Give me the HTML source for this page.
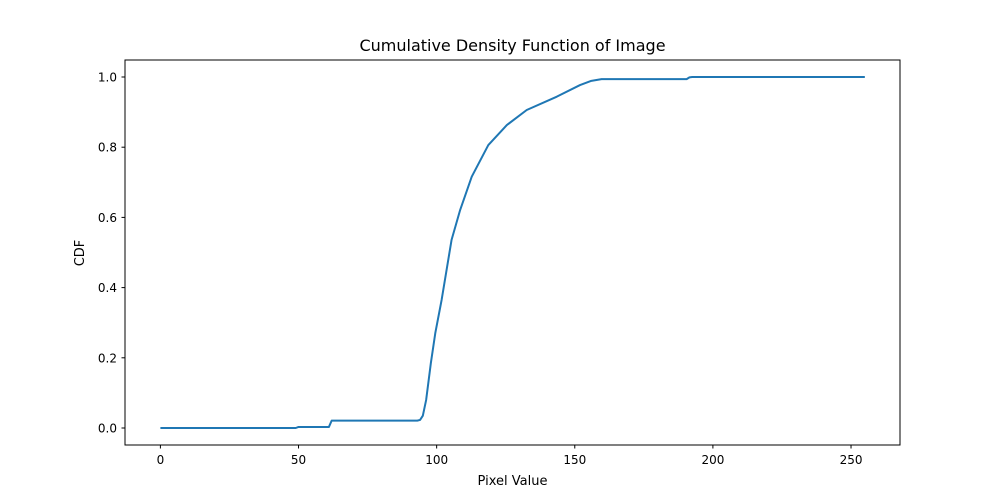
<!DOCTYPE html>
<html><head><meta charset="utf-8"><style>
body{margin:0;background:#fff;}
svg{display:block;font-family:"DejaVu Sans","Liberation Sans",sans-serif;}
</style></head><body>
<svg id="chart" width="1000" height="500">
<text x="512.5" y="51" text-anchor="middle" font-size="16">Cumulative Density Function of Image</text>
<g id="axes"></g>
<rect x="125" y="60" width="775" height="385" fill="none" stroke="#000" stroke-width="1"/>
<text x="512.5" y="485" text-anchor="middle" font-size="13">Pixel Value</text>
<text transform="translate(84,253) rotate(-90)" text-anchor="middle" font-size="13">CDF</text>
</svg>
<script>
const xVals=[0,49,50,61,62,93,94,95,96.2,97.9,99.5,101.8,105.4,108.5,112.7,118.7,125.4,132.6,143.5,151.9,156,159.7,190.5,191.5,192.5,255];
const yVals=[0,0,0.003,0.003,0.021,0.021,0.023,0.035,0.08,0.185,0.27,0.365,0.536,0.621,0.716,0.806,0.863,0.906,0.944,0.977,0.989,0.994,0.994,0.999,1.0,1.0];
const xTicks=[0,50,100,150,200,250];
const yTicks=[0,0.2,0.4,0.6,0.8,1.0];
const NS="http://www.w3.org/2000/svg";
const X=v=>160.4+v*2.7625;
const Y=v=>428-v*351;
const g=document.getElementById('axes');
function mk(t,a){const e=document.createElementNS(NS,t);for(const k in a)e.setAttribute(k,a[k]);return e;}
xTicks.forEach(t=>{
 const l=mk('line',{x1:X(t),x2:X(t),y1:445,y2:448.5,stroke:'#000'});
 
 
 g.appendChild(l);
 const tx=mk('text',{x:X(t),y:464,'text-anchor':'middle','font-size':12});
 
 
 tx.textContent=t;g.appendChild(tx);
});
yTicks.forEach(t=>{
 const l=mk('line',{x1:121.5,x2:125,y1:Y(t),y2:Y(t),stroke:'#000'});
 
 
 g.appendChild(l);
 const tx=mk('text',{x:117,y:Y(t)+4.5,'text-anchor':'end','font-size':12});
 
 
 tx.textContent=t.toFixed(1);g.appendChild(tx);
});
const p=mk('polyline',{points:xVals.map((x,i)=>X(x)+','+Y(yVals[i])).join(' '),fill:'none',stroke:'#1f77b4','stroke-width':2,'stroke-linejoin':'round'});


g.appendChild(p);
</script>
</body></html>
